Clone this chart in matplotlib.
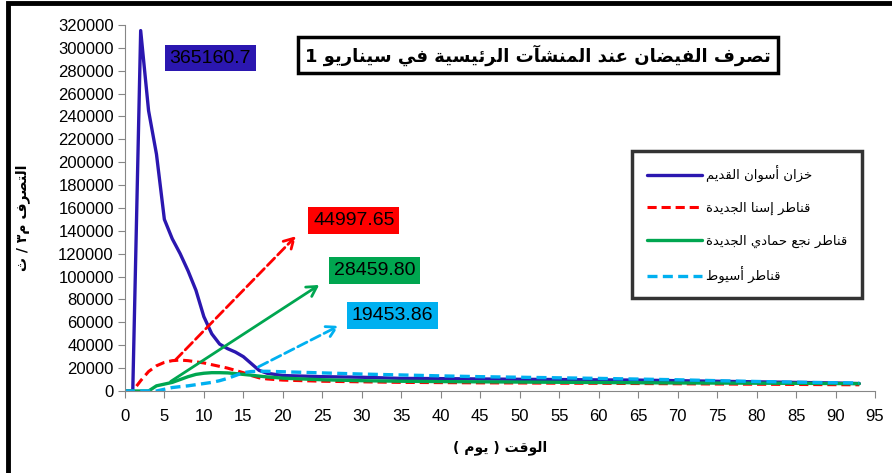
import matplotlib
matplotlib.use("Agg")
import matplotlib.pyplot as plt
from matplotlib.patches import Rectangle

# --- البيانات (التصرف م3/ث مقابل الزمن بالأيام) ---
days = list(range(0, 21)) + [25, 30, 35, 40, 45, 50, 55, 60, 65, 70, 75, 80, 85, 90, 93]

aswan = [0, 0, 315000, 245000, 207000, 150000, 133000, 120000, 105000, 88000,
         65000, 50000, 41000, 37000, 34000, 30000, 24000, 18000, 15500, 14500,
         13500, 12500, 12000, 11000, 10800, 10500, 10200, 10000, 9700, 9500,
         9000, 8500, 8000, 7500, 7000, 6500]
esna = [0, 0, 9000, 17000, 22000, 25000, 26500, 27000, 26500, 25500,
        24500, 23000, 21500, 20000, 18000, 16000, 13500, 11500, 10500, 10000,
        9500, 8500, 8000, 7500, 7300, 7100, 7000, 6800, 6700, 6500,
        6300, 6100, 5900, 5700, 5500, 5400]
naga = [0, 0, 0, 0, 4500, 6000, 7500, 10000, 12500, 14500,
        15500, 16000, 16000, 15800, 15200, 14500, 13800, 13000, 12300, 11800,
        11200, 9800, 9000, 8500, 8200, 8000, 7800, 7600, 7400, 7200,
        7000, 6900, 6800, 6700, 6500, 6400]
assiut = [0, 0, 0, 0, 0, 1500, 3000, 3800, 4500, 5500,
          6500, 7500, 9000, 11000, 13500, 16000, 17000, 17200, 17200, 17000,
          16800, 15800, 14800, 14000, 13200, 12500, 12000, 11500, 11000, 10400,
          9800, 9000, 8300, 7700, 7200, 7000]

names = ["خزان أسوان القديم", "قناطر إسنا الجديدة",
         "قناطر نجع حمادي الجديدة", "قناطر أسيوط"]
peak_texts = ["365160.7", "44997.65", "28459.80", "19453.86"]

title_text = "تصرف الفيضان عند المنشآت الرئيسية في سيناريو 1"
xlabel_text = "الوقت ( يوم )"
ylabel_text = "التصرف م٣ / ث"

# --- تشكيل الحروف العربية (matplotlib لا يقوم بالوصل ولا الاتجاه) ---
# الحرف: (أول رمز في Presentation Forms-B, عدد الأشكال)
FORMS = {
    'ء': (0xFE80, 1), 'آ': (0xFE81, 2), 'أ': (0xFE83, 2), 'ؤ': (0xFE85, 2),
    'إ': (0xFE87, 2), 'ئ': (0xFE89, 4), 'ا': (0xFE8D, 2), 'ب': (0xFE8F, 4),
    'ة': (0xFE93, 2), 'ت': (0xFE95, 4), 'ث': (0xFE99, 4), 'ج': (0xFE9D, 4),
    'ح': (0xFEA1, 4), 'خ': (0xFEA5, 4), 'د': (0xFEA9, 2), 'ذ': (0xFEAB, 2),
    'ر': (0xFEAD, 2), 'ز': (0xFEAF, 2), 'س': (0xFEB1, 4), 'ش': (0xFEB5, 4),
    'ص': (0xFEB9, 4), 'ض': (0xFEBD, 4), 'ط': (0xFEC1, 4), 'ظ': (0xFEC5, 4),
    'ع': (0xFEC9, 4), 'غ': (0xFECD, 4), 'ف': (0xFED1, 4), 'ق': (0xFED5, 4),
    'ك': (0xFED9, 4), 'ل': (0xFEDD, 4), 'م': (0xFEE1, 4), 'ن': (0xFEE5, 4),
    'ه': (0xFEE9, 4), 'و': (0xFEED, 2), 'ى': (0xFEEF, 2), 'ي': (0xFEF1, 4),
}
LAM_ALEF = {'آ': 0xFEF5, 'أ': 0xFEF7, 'إ': 0xFEF9, 'ا': 0xFEFB}


def shape(text):
    out = []
    i = 0
    n = len(text)
    while i < n:
        c = text[i]
        if c not in FORMS:
            out.append(c)
            i += 1
            continue
        prev = text[i - 1] if i > 0 else ''
        joins_prev = prev in FORMS and FORMS[prev][1] == 4
        if c == 'ل' and i + 1 < n and text[i + 1] in LAM_ALEF:
            out.append(chr(LAM_ALEF[text[i + 1]] + (1 if joins_prev else 0)))
            i += 2
            continue
        base, k = FORMS[c]
        nxt = text[i + 1] if i + 1 < n else ''
        joins_next = k == 4 and nxt in FORMS
        if k == 1:
            form = 0
        elif joins_prev and joins_next:
            form = 3
        elif joins_next:
            form = 2
        elif joins_prev:
            form = 1
        else:
            form = 0
        out.append(chr(base + form))
        i += 1
    s = ''.join(reversed(out))
    return s.translate(str.maketrans('()', ')('))


plt.rcParams['font.family'] = ['Liberation Sans', 'DejaVu Sans']

fig = plt.figure(figsize=(8.92, 4.73), dpi=100)
ax = fig.add_axes([0.140, 0.1734, 0.841, 0.774])

colors = ['#2B17B0', '#FF0000', '#00A650', '#00B0F0']
series = [aswan, esna, naga, assiut]
styles = ['-', (0, (3, 1.6)), '-', (0, (3, 1.6))]
widths = [2.4, 2.2, 2.4, 2.4]

for vals, col, ls, lw, name in zip(series, colors, styles, widths, names):
    ax.plot(days, vals, color=col, linestyle=ls, linewidth=lw,
            label=shape(name), solid_capstyle='round')

ax.set_xlim(0, 95)
ax.set_ylim(0, 320000)
ax.set_xticks(range(0, 96, 5))
ax.set_yticks(range(0, 320001, 20000))

for s in ['top', 'right']:
    ax.spines[s].set_visible(False)
for s in ['left', 'bottom']:
    ax.spines[s].set_color('#868686')
ax.tick_params(axis='both', direction='out', length=5, color='#868686')
ax.tick_params(axis='y', labelsize=12, pad=3)
ax.tick_params(axis='x', labelsize=12, pad=8)

ax.set_xlabel(shape(xlabel_text), family='DejaVu Sans', fontsize=10,
              fontweight='bold', labelpad=12)
fig.text(0.025, 0.54, shape(ylabel_text), family='DejaVu Sans', fontsize=10,
         fontweight='bold', rotation=90, ha='center', va='center')

# العنوان داخل إطار
fig.text(0.603, 0.884, shape(title_text),
         family='DejaVu Sans', fontsize=13, fontweight='bold',
         ha='center', va='center', zorder=5,
         bbox=dict(boxstyle='square,pad=0.4', fc='white', ec='black', lw=2.5))

# وسيلة الإيضاح
leg = ax.legend(loc='upper left', bbox_to_anchor=(0.676, 0.655),
                prop={'family': 'DejaVu Sans', 'size': 9.5},
                frameon=True, fancybox=False, handlelength=4.2,
                labelspacing=1.45, borderpad=1.1, handletextpad=0.3,
                borderaxespad=0)
leg.get_frame().set_edgecolor('black')
leg.get_frame().set_linewidth(2.5)

# مربعات القيم القصوى مع الأسهم
ax.text(10.8, 291000, peak_texts[0], fontsize=14, ha='center', va='center',
        bbox=dict(boxstyle='square,pad=0.25', fc=colors[0], ec='none'))

ann = [
    (peak_texts[1], colors[1], (6.1, 25000), (21.9, 137000), (29.0, 149000), '--'),
    (peak_texts[2], colors[2], (5.5, 7000), (24.9, 94000), (31.6, 105000), '-'),
    (peak_texts[3], colors[3], (16.6, 20000), (27.4, 58000), (33.9, 66000), '--'),
]
for txt, col, start, end, pos, ls in ann:
    ax.annotate('', xy=end, xytext=start,
                arrowprops=dict(arrowstyle='->,head_length=0.7,head_width=0.4',
                                color=col, lw=2, linestyle=ls))
    ax.text(pos[0], pos[1], txt, fontsize=14, ha='center', va='center',
            bbox=dict(boxstyle='square,pad=0.25', fc=col, ec='none'))

# إطار الشكل (الجانب الأيسر والعلوي)
fig.patches.append(Rectangle((0.0085, -0.1), 1.2, 1.093, transform=fig.transFigure,
                             fill=False, ec='black', lw=3.5))

fig.savefig('out.png', dpi=100)
